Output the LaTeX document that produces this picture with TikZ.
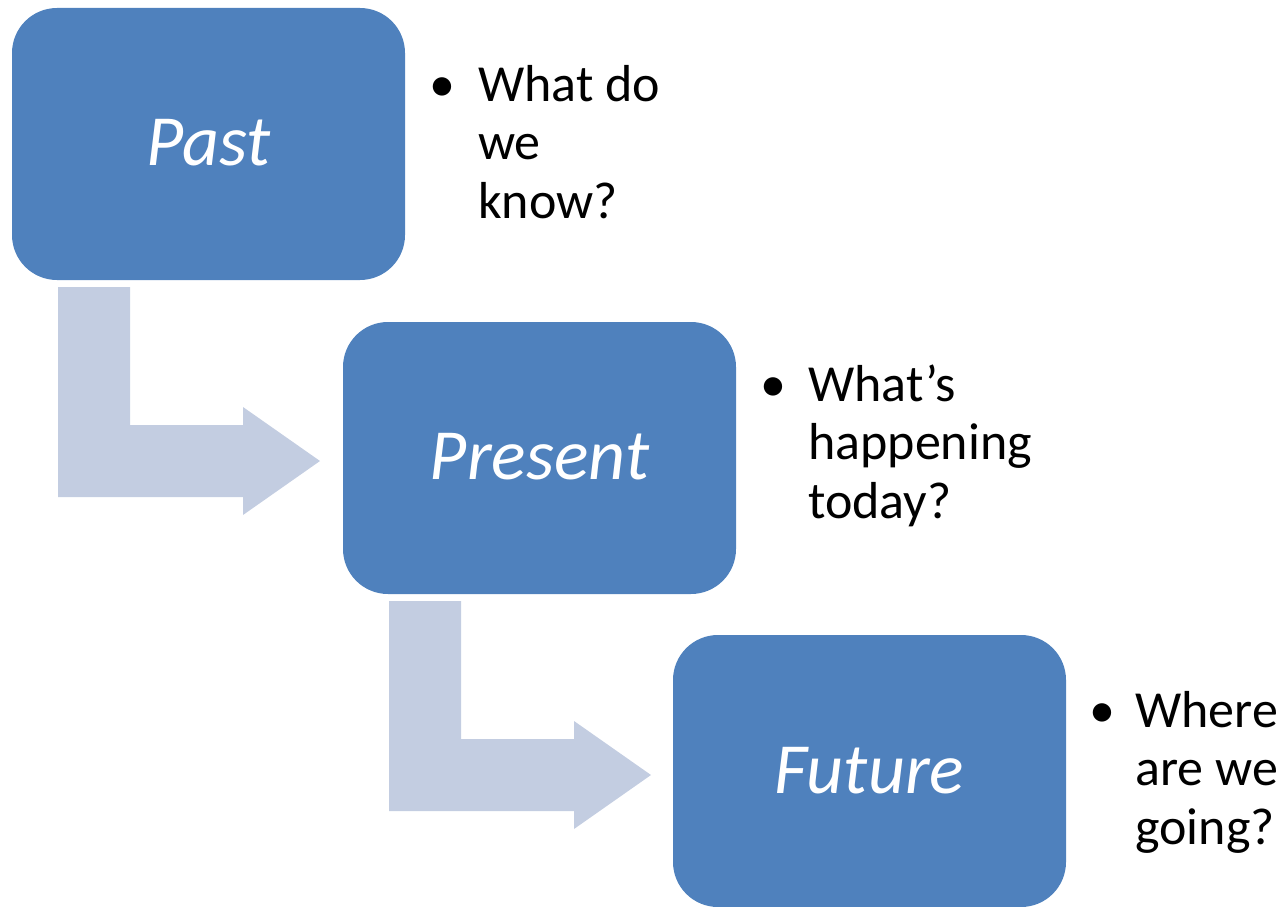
\documentclass[tikz,border=0pt]{standalone}
\usepackage{fontspec}
\setmainfont{Carlito}
\definecolor{boxblue}{HTML}{4F81BD}
\definecolor{arrowblue}{HTML}{C3CDE1}
\begin{document}
\begin{tikzpicture}[x=1pt,y=-1pt,
  stagebox/.style={fill=boxblue, draw=none, rounded corners=45pt, minimum width=393pt, minimum height=272pt, inner sep=0pt, text=white, font=\fontsize{72}{80}\selectfont\itshape},
  stagelabel/.style={anchor=base, inner sep=0pt, text=white, font=\fontsize{72}{80}\selectfont\itshape},
  bentarrow/.style={fill=arrowblue, draw=none},
  bulletmark/.style={anchor=base west, inner sep=0pt, font=\fontsize{52}{58.5}\selectfont},
  bullettext/.style={anchor=base west, inner sep=0pt, text width=300pt, align=flush left, font=\fontsize{52}{58.5}\selectfont}]
\useasboundingbox (0,0) rectangle (1285,907);
% stages
\node[stagebox] (past) at (208.5,144) {};
\node[stagebox] (present) at (539.5,458) {};
\node[stagebox] (future) at (869.5,771) {};
\node[stagelabel] (pastlbl) at (208.5,165) {Past};
\node[stagelabel] (presentlbl) at (539.5,479) {Present};
\node[stagelabel] (futurelbl) at (869.5,793) {Future};
% bent arrows
\fill[bentarrow] (58,287) -- (130,287) -- (130,425) -- (243,425) -- (243,407) -- (320,461) -- (243,515) -- (243,497) -- (58,497) -- cycle;
\fill[bentarrow] (389,601) -- (461,601) -- (461,739) -- (574,739) -- (574,721) -- (651,775) -- (574,829) -- (574,811) -- (389,811) -- cycle;
% bullets
\node[bulletmark] (b1) at (429,101) {\textbullet};
\node[bullettext] (t1) at (478,101) {What do\\we\\know?};
\node[bulletmark] (b2) at (760,401) {\textbullet};
\node[bullettext] (t2) at (808,401) {What’s\\happening\\today?};
\node[bulletmark] (b3) at (1089,727) {\textbullet};
\node[bullettext] (t3) at (1135,727) {Where\\are we\\going?};
\end{tikzpicture}
\end{document}
